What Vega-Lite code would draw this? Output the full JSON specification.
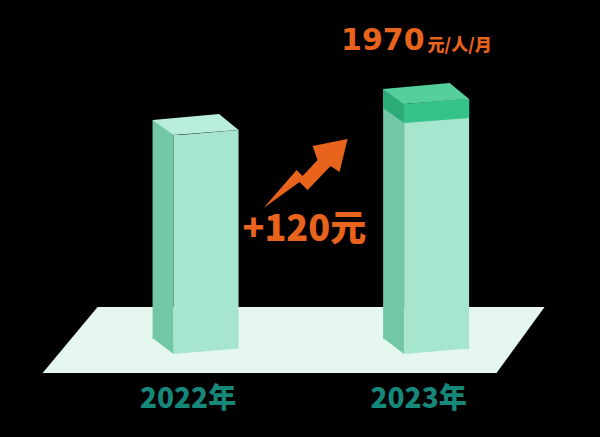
{
  "$schema": "https://vega.github.io/schema/vega-lite/v6.json",
  "width": 600,
  "height": 375,
  "autosize": {"type": "none"},
  "padding": {"left": 0, "top": 0, "right": 0, "bottom": 62},
  "background": "#000000",
  "config": {"view": {"stroke": null}},
  "data": {
    "values": [
      {"year": 2022, "value": 1850},
      {"year": 2023, "value": 1970, "change": 120}
    ]
  },
  "encoding": {
    "x": {
      "field": "year",
      "type": "quantitative",
      "scale": {"domain": [2021.128, 2023.687], "nice": false, "zero": false},
      "axis": null
    },
    "y": {
      "field": "value",
      "type": "quantitative",
      "scale": {"domain": [918.5, 2374], "nice": false, "zero": false},
      "axis": null
    }
  },
  "layer": [
    {
      "transform": [{"filter": "datum.year == 2022"}],
      "mark": {"type": "point", "shape": "M-223.75,-47 L223.25,-47 L175.25,19 L-278.75,19 Z", "size": 4, "filled": true, "opacity": 1, "strokeWidth": 0, "color": "#e6f7ef"},
      "encoding": {
        "x": {"datum": 2022.5, "type": "quantitative", "axis": null},
        "y": {"datum": 1000, "type": "quantitative", "axis": null}
      }
    },
    {
      "mark": {"type": "bar", "width": 21, "xOffset": -43, "yOffset": -15, "y2Offset": -15, "color": "#72c8a5"},
      "encoding": {"y2": {"datum": 1000}}
    },
    {
      "mark": {"type": "point", "shape": "M-53.5,-16 L-32.5,-16 L-32.5,0 Z", "size": 4, "filled": true, "opacity": 1, "strokeWidth": 0, "color": "#72c8a5"},
      "encoding": {"y": {"datum": 1000, "type": "quantitative", "axis": null}}
    },
    {
      "mark": {"type": "bar", "width": 65, "y2Offset": -5, "color": "#a6e6cf"},
      "encoding": {"y2": {"datum": 1000}}
    },
    {
      "mark": {"type": "point", "shape": "M-32.5,-5.5 L-32.5,0 L32.5,-5.5 Z", "size": 4, "filled": true, "opacity": 1, "strokeWidth": 0, "color": "#a6e6cf"},
      "encoding": {"y": {"datum": 1000, "type": "quantitative", "axis": null}}
    },
    {
      "mark": {"type": "point", "shape": "M-32.5,0.5 L32.5,-5 L32.5,0.5 Z", "size": 4, "filled": true, "opacity": 1, "strokeWidth": 0, "color": "#a6e6cf"}
    },
    {
      "transform": [{"filter": "!isValid(datum.change)"}],
      "mark": {"type": "point", "shape": "M-32.5,0 L-53.5,-15 L13,-21 L32.5,-5 Z", "size": 4, "filled": true, "opacity": 1, "strokeWidth": 0, "color": "#b8eedb"}
    },
    {
      "transform": [{"filter": "isValid(datum.change)"}],
      "mark": {"type": "point", "shape": "M-53.5,-15 L-32.5,0 L-32.5,19 L-53.5,4 Z", "size": 4, "filled": true, "opacity": 1, "strokeWidth": 0, "color": "#2bab77"}
    },
    {
      "transform": [{"filter": "isValid(datum.change)"}],
      "mark": {"type": "point", "shape": "M-32.5,0 L32.5,-5 L32.5,14 L-32.5,19 Z", "size": 4, "filled": true, "opacity": 1, "strokeWidth": 0, "color": "#34c388"}
    },
    {
      "transform": [{"filter": "isValid(datum.change)"}],
      "mark": {"type": "point", "shape": "M-32.5,0 L-53.5,-15 L13,-21 L32.5,-5 Z", "size": 4, "filled": true, "opacity": 1, "strokeWidth": 0, "color": "#55cf9c"}
    },
    {
      "transform": [{"filter": "isValid(datum.change)"}],
      "mark": {"type": "point", "shape": "M-57.75,-32.6 L-24.75,-70.6 L-18.75,-64.6 L-3.75,-80.6 L-8.75,-94.6 L26.25,-101.6 L18.25,-68.6 L9.25,-74.6 L-13.75,-50.6 L-21.75,-58.6 Z", "size": 4, "filled": true, "opacity": 1, "strokeWidth": 0, "color": "#e8631c"},
      "encoding": {
        "x": {"datum": 2022.5, "type": "quantitative", "axis": null},
        "y": {"datum": 1440, "type": "quantitative", "axis": null}
      }
    },
    {
      "transform": [{"filter": "isValid(datum.change)"}],
      "mark": {"type": "text", "text": {"expr": "'+' + datum.change + '元'"}, "dx": -17, "align": "center", "baseline": "alphabetic", "font": "Noto Sans CJK SC", "fontSize": 36, "fontWeight": 900, "color": "#e8631c"},
      "encoding": {
        "x": {"datum": 2022.5, "type": "quantitative", "axis": null},
        "y": {"datum": 1440, "type": "quantitative", "axis": null}
      }
    },
    {
      "transform": [{"filter": "isValid(datum.change)"}],
      "mark": {"type": "text", "align": "right", "baseline": "alphabetic", "dx": -12, "dy": -54.5, "font": "DejaVu Sans", "fontSize": 30, "fontWeight": "bold", "color": "#e8631c"},
      "encoding": {"text": {"field": "value", "type": "quantitative", "format": "d"}}
    },
    {
      "transform": [{"filter": "isValid(datum.change)"}],
      "mark": {"type": "text", "text": "元/人/月", "align": "left", "baseline": "alphabetic", "dx": -9, "dy": -53, "font": "Noto Sans CJK SC", "fontSize": 17, "fontWeight": 900, "color": "#e8631c"}
    },
    {
      "mark": {"type": "text", "text": {"expr": "datum.year + '年'"}, "dx": -18, "align": "center", "baseline": "alphabetic", "font": "Noto Sans CJK SC", "fontSize": 28, "fontWeight": 900, "color": "#17877a"},
      "encoding": {"y": {"datum": 790, "type": "quantitative", "axis": null}}
    }
  ]
}
